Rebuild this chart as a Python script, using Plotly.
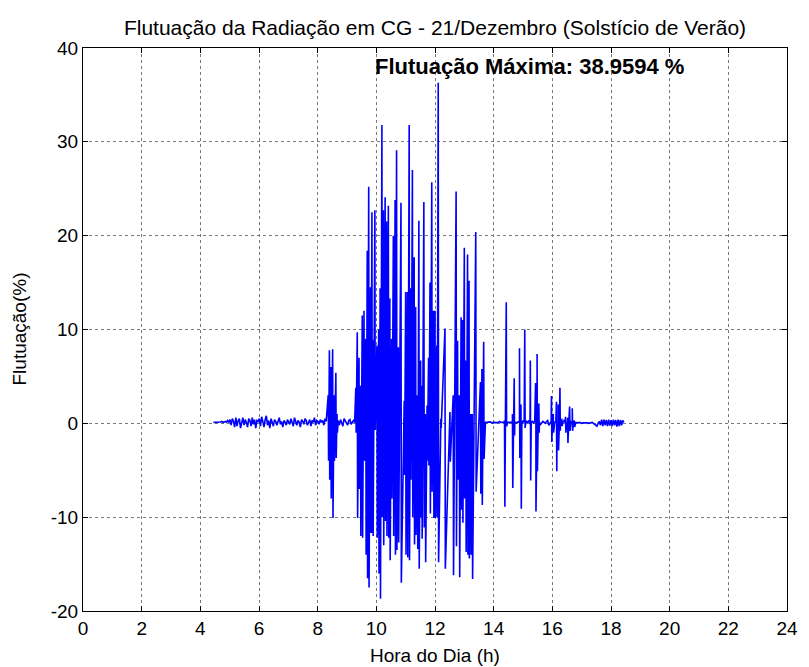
import plotly.graph_objects as go

# ---------------- data ----------------
# quiet (low-fluctuation) periods: start hour, sampling step, values (%)
ruido1_inicio, ruido1_passo = 4.45, 0.04
ruido1 = [0.1, 0.1, 0.15, 0.1, 0.12, 0.1, 0.15, 0.2, 0.1, 0.15, 0.2, 0.1, 0.3, 0.1,
          0.4, -0.2, 0.5, 0.2, -0.4, 0.6, -0.3, 0.3, 0.5, -0.5, 0.2, 0.6, -0.2, 0.4, 0.1,
          -0.4, 0.5, 0.3, -0.3, 0.6, -0.1, 0.4, -0.5, 0.3, 0.2,
          0.5, -0.3, 0.7, 0.2, -0.4, 0.4, 0.8, -0.2, 0.3, -0.5, 0.5, 0.1, -0.3, 0.4, 0.2,
          -0.2, 0.3, 0.6, -0.1, 0.2, -0.4, 0.3, 0.1, -0.2, 0.4,
          0.2, -0.1, 0.5, 0.1, -0.3, 0.6, 0.2, -0.2, 0.3, 0.1, -0.4, 0.4, 0.2, -0.1, 0.5,
          0.3, -0.2, 0.2, 0.4, -0.3, 0.3, 0.1, 0.6, -0.2, 0.3, 0.2, -0.1, 0.4, 0.1, 0.3,
          -0.2, 0.5, 0.2]

ruido2_inicio, ruido2_passo = 8.70, 0.04
ruido2 = [0.3, -0.2, 0.4, 0.1, -0.3, 0.5, 0.2, 0.1, -0.2, 0.3, 0.4, -0.1, 0.2, 0.3, 0.1]

ruido3_inicio, ruido3_passo = 13.72, 0.04
ruido3 = [0.1, 0.12, 0.08, 0.1, 0.15, 0.1, 0.05, 0.1, 0.12, 0.1, 0.08, 0.1, 0.2, 0.1, 0.1,
          0.05, 0.1, 0.15, 0.1, 0.1, 0.08, 0.12, 0.1, 0.2, 0.1, 0.1, 0.05, 0.1, 0.15, 0.1,
          0.2, -0.1, 0.3, 0.1, -0.2, 0.2, 0.1, 0.3, -0.1, 0.1, 0.2, 0.0, 0.3, -0.2, 0.1, 0.2,
          0.1, -0.1, 0.1, 0.2, 0.1, 0.0, 0.2, 0.3, -0.2, 0.1, 0.2, -0.1, 0.3, 0.1, 0.2, -0.3,
          0.1, 0.2, 0.4, -0.2, 0.1, 0.3, 0.1, -0.1, 0.2, 0.1, 0.0, 0.2, 0.1, 0.1, 0.05, 0.1,
          0.05, 0.05, 0.1, 0.05, 0.0, 0.05, 0.05, 0.1, 0.05, 0.05, 0.0, 0.05, 0.05, 0.1,
          0.0, -0.1, -0.2, -0.3, 0.0, 0.2, -0.2, 0.4, -0.3, 0.4, -0.2, 0.35, -0.3, 0.4, -0.25,
          0.35, -0.3, 0.4, -0.2, 0.35, -0.35, 0.4, -0.3, 0.35, -0.2, 0.3, 0.1]

# fluctuation spikes: hour, positive peak (%), negative peak (%)
hora_pico = [8.36, 8.40, 8.45, 8.51, 8.56, 8.62, 8.66,
             9.30, 9.35, 9.41, 9.46, 9.52, 9.58, 9.64, 9.69, 9.74, 9.80, 9.85, 9.88, 9.95,
             10.02, 10.08, 10.13, 10.19, 10.24, 10.30, 10.35, 10.41, 10.46, 10.52, 10.58,
             10.64, 10.69, 10.75, 10.84, 10.95, 11.00, 11.06, 11.12, 11.17, 11.23, 11.29,
             11.34, 11.40, 11.45, 11.51, 11.55, 11.62, 11.67, 11.73, 11.78, 11.83, 11.89,
             11.95, 12.00, 12.06, 12.11, 12.20, 12.34, 12.51, 12.62, 12.72, 12.77, 12.83,
             12.89, 12.94, 13.00, 13.05, 13.11, 13.16, 13.22, 13.27, 13.39, 13.55, 13.60,
             13.66,
             14.37, 14.43, 14.64, 14.70, 14.88, 14.93, 15.06, 15.25, 15.43, 15.48, 15.54,
             15.97, 16.03, 16.14, 16.20, 16.26, 16.32, 16.45, 16.52, 16.59, 16.68, 16.75]
pico_sup = [3.0, 7.8, 6.0, 7.9, 3.0, 5.4, 1.0,
            3.8, 9.7, 7.0, 4.0, 11.5, 12.0, 9.0, 18.4, 25.2, 14.5, 22.5, 8.9, 22.7,
            8.3, 10.0, 14.4, 31.8, 22.7, 24.1, 21.5, 23.2, 13.3, 9.0, 20.0,
            23.8, 29.1, 8.1, 23.5, 2.4, 14.0, 14.0, 31.8, 14.4, 27.0, 17.7,
            12.4, 3.0, 21.6, 6.7, 4.0, 23.6, 1.0, 1.9, 7.0, 15.0, 25.7,
            12.0, 12.0, 8.3, 36.3, 0.5, 10.1, 1.2, 3.0, 24.7, 8.8, 3.0,
            11.3, 11.0, 18.7, 6.7, 18.0, 15.2, 1.0, 1.0, 20.4, 4.4, 5.8,
            8.7,
            0.3, 12.9, 1.0, 4.8, 8.0, 2.0, 10.0, 6.7, 4.3, 7.4, 2.1,
            2.9, 1.0, 2.3, 2.0, 3.8, 0.5, 0.7, 0.6, 1.8, 1.6, 0.3]
pico_inf = [-4.0, -6.0, -8.0, -10.1, -4.0, -3.7, -1.0,
            -1.0, -10.1, -7.0, -12.0, -12.2, -4.0, -14.0, -16.5, -17.5, -11.7, -11.7, -12.0, -0.7,
            -12.2, -16.0, -18.7, -10.0, -13.0, -10.4, -12.0, -12.2, -14.6, -8.0, -12.0,
            -14.0, -13.5, -12.7, -17.0, -5.5, -14.0, -14.3, -14.6, -6.0, -10.0, -12.9,
            -11.9, -13.4, -15.5, -10.0, -12.3, -11.1, -14.8, -4.0, -4.5, -9.6, -7.3,
            -10.1, -10.1, -10.0, -14.8, -0.5, -15.5, -4.1, -16.2, -13.1, -6.0, -16.4,
            -9.2, -10.6, -8.0, -13.7, -14.0, -14.4, -14.0, -16.6, -7.3, -7.5, -8.7,
            -3.8,
            -8.9, -0.3, -6.9, -1.3, -3.7, -9.1, -0.5, -6.1, -9.4, -5.1, -1.0,
            -2.0, -1.0, -5.1, -2.9, -0.8, -0.3, -1.0, -2.1, -0.8, -0.8, -0.4]

xticks = [0, 2, 4, 6, 8, 10, 12, 14, 16, 18, 20, 22, 24]
yticks = [-20, -10, 0, 10, 20, 30, 40]
ytick_labels = ["-20", "-10", "0", "10", "20", "30", "40"]

titulo = "Flutuação da Radiação em CG - 21/Dezembro (Solstício de Verão)"
rotulo_x = "Hora do Dia (h)"
rotulo_y = "Flutuação(%)"
texto_max = "Flutuação Máxima: 38.9594 %"

# ---------------- assemble the time series ----------------
pontos = []
for ini, passo, vals in [(ruido1_inicio, ruido1_passo, ruido1),
                         (ruido2_inicio, ruido2_passo, ruido2),
                         (ruido3_inicio, ruido3_passo, ruido3)]:
    for i, v in enumerate(vals):
        pontos.append((ini + passo * i, v))
for t, s, n in zip(hora_pico, pico_sup, pico_inf):
    pontos.append((t, s))
    pontos.append((t + 0.012, n))
pontos.sort(key=lambda p: p[0])
hora = [p[0] for p in pontos]
flut = [p[1] for p in pontos]

FONT = "Liberation Sans, Arial, Helvetica, sans-serif"

# page body has an 8px default margin: figure is sized/offset to compensate
W, H = 801, 659
fig = go.Figure()
fig.add_trace(go.Scatter(x=hora, y=flut, mode="lines",
                         line=dict(color="#0000FF", width=1.6),
                         showlegend=False, hoverinfo="skip"))

axis_common = dict(showline=True, linecolor="black", linewidth=1, mirror="ticks",
                   ticks="inside", ticklen=5, tickcolor="black", tickwidth=1,
                   showgrid=True, gridcolor="#7a7a7a", griddash="dot", gridwidth=1,
                   zeroline=False, tickfont=dict(family=FONT, size=19, color="black"))

fig.update_layout(
    width=W, height=H,
    margin=dict(l=75, r=11, t=40, b=56),
    paper_bgcolor="white", plot_bgcolor="white",
    font=dict(family=FONT, size=19, color="black"),
    title=dict(text=titulo, x=0.5, xref="paper", y=1 - 20 / H, yref="container",
               xanchor="center", yanchor="middle",
               font=dict(family=FONT, size=21, color="black")),
    xaxis=dict(range=[0, 24], tickvals=xticks, **axis_common),
    yaxis=dict(range=[-20, 40], tickvals=yticks, ticktext=ytick_labels, **axis_common),
    annotations=[
        dict(text=rotulo_x, xref="paper", yref="paper", x=0.5, y=-(655 - 611) / 563,
             xanchor="center", yanchor="middle", showarrow=False,
             font=dict(family=FONT, size=19, color="black")),
        dict(text=rotulo_y, xref="paper", yref="paper", x=(18 - 83) / 715, y=0.5,
             xanchor="center", yanchor="middle", textangle=-90, showarrow=False,
             font=dict(family=FONT, size=19, color="black")),
        dict(text="<b>" + texto_max + "</b>", xref="x", yref="y", x=9.88, y=38.0,
             xanchor="left", yanchor="middle", showarrow=False,
             font=dict(family=FONT, size=22, color="black")),
    ],
)

fig.write_html("out.html")
